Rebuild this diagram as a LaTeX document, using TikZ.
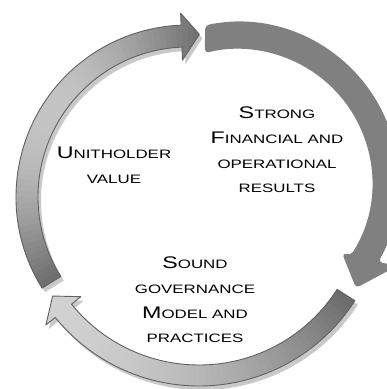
\documentclass[tikz,border=0pt]{standalone}
\usepackage{fontspec}
\setmainfont{Liberation Sans}
\newfontfamily\cyclefont[FakeStretch=1.385]{Liberation Sans}
\usetikzlibrary{calc}
% large initial capital for the small-caps style labels
\newcommand\capA[1]{{\fontsize{16.8pt}{24.7pt}\selectfont #1}}
\newcommand\lblstrut{\rule[-4pt]{0pt}{16pt}}

\begin{document}
\begin{tikzpicture}[x=1pt,y=1pt,
  cyclelabel/.style={align=center, inner sep=0pt, text=black,
    font=\cyclefont\fontsize{12.2pt}{24.7pt}\selectfont},
  shadowfill/.style={fill=black!21},
  edgeline/.style={draw=black!62, line width=0.9pt, line join=round},
  % left arrow: rises along the left side, head at the top
  leftshape/.style={insert path={
    ($(cl)+(212:172pt)$) arc[start angle=212, end angle=92.3, radius=172pt]
    -- ($(cl)+(92.3:184pt)$) -- ($(cl)+(86:163pt)$) -- ($(cl)+(92.3:137pt)$)
    -- ($(cl)+(92.3:150pt)$) arc[start angle=92.3, end angle=212, radius=150pt]
    -- cycle}},
  % bottom arrow: runs from the lower right to the lower left
  bottomshape/.style={insert path={
    ($(cb)+(-32.6:185pt)$) arc[start angle=-32.6, end angle=-141, radius=185pt]
    -- ($(cb)+(-141:197pt)$) -- ($(cb)+(-147:174.5pt)$) -- ($(cb)+(-141:152pt)$)
    -- ($(cb)+(-141:164pt)$) arc[start angle=-141, end angle=-32.6, radius=164pt]
    -- cycle}},
  % right arrow: flat grey, from the top down the right side
  rightshape/.style={insert path={
    ($(cr)+(101.8:161pt)$) arc[start angle=101.8, end angle=-29.35, radius=161pt]
    -- (397,-266) -- (356,-288) -- (342,-253)
    -- ($(cr)+(-32.6:134pt)$) arc[start angle=-32.6, end angle=104.3, radius=134pt]
    -- cycle}}
]
\useasboundingbox (0,0) rectangle (387,-389);
\fill[white] (0,0) rectangle (387,-389);

\coordinate (cl) at (188,-197);
\coordinate (cb) at (199,-201);
\coordinate (cr) at (238,-183);

% drop shadows
\begin{scope}[transform canvas={xshift=3pt,yshift=-4pt}]
  \path[shadowfill, leftshape];
  \path[shadowfill, bottomshape];
\end{scope}

% right arrow
\path[fill=black!50, rounded corners=4pt, rightshape];

% left arrow with graded fill along its length
\begin{scope}
  \path[clip, leftshape];
  \foreach \i in {0,...,68} {
    \pgfmathsetmacro\ga{214-2*\i}
    \pgfmathsetmacro\gp{min(max((212-\ga)/126,0),1)}
    \pgfmathsetmacro\gd{57-34*sin(180*\gp)}
    \fill[black!\gd] (cl) -- ($(cl)+(\ga:205pt)$)
      arc[start angle=\ga, end angle=\ga-2.5, radius=205pt] -- cycle;
  }
\end{scope}
\path[edgeline, leftshape];

% bottom arrow with graded fill along its length
\begin{scope}
  \path[clip, bottomshape];
  \foreach \i in {0,...,62} {
    \pgfmathsetmacro\ga{-28-2*\i}
    \pgfmathsetmacro\gp{min(max((-32.6-\ga)/114.4,0),1)}
    \pgfmathsetmacro\gd{18+40*(1-\gp)^2}
    \fill[black!\gd] (cb) -- ($(cb)+(\ga:210pt)$)
      arc[start angle=\ga, end angle=\ga-2.5, radius=210pt] -- cycle;
  }
\end{scope}
\path[edgeline, bottomshape];

% labels
\node[cyclelabel] (strong) at (277,-151.85)
  {\lblstrut\capA{S}TRONG\\\lblstrut\capA{F}INANCIAL AND\\\lblstrut OPERATIONAL\\\lblstrut RESULTS};
\node[cyclelabel] (sound) at (195,-301.85)
  {\lblstrut\capA{S}OUND\\\lblstrut GOVERNANCE\\\lblstrut\capA{M}ODEL AND\\\lblstrut PRACTICES};
\node[cyclelabel] (unitholder) at (114,-167.2)
  {\lblstrut\capA{U}NITHOLDER\\\lblstrut VALUE};
\end{tikzpicture}
\end{document}
